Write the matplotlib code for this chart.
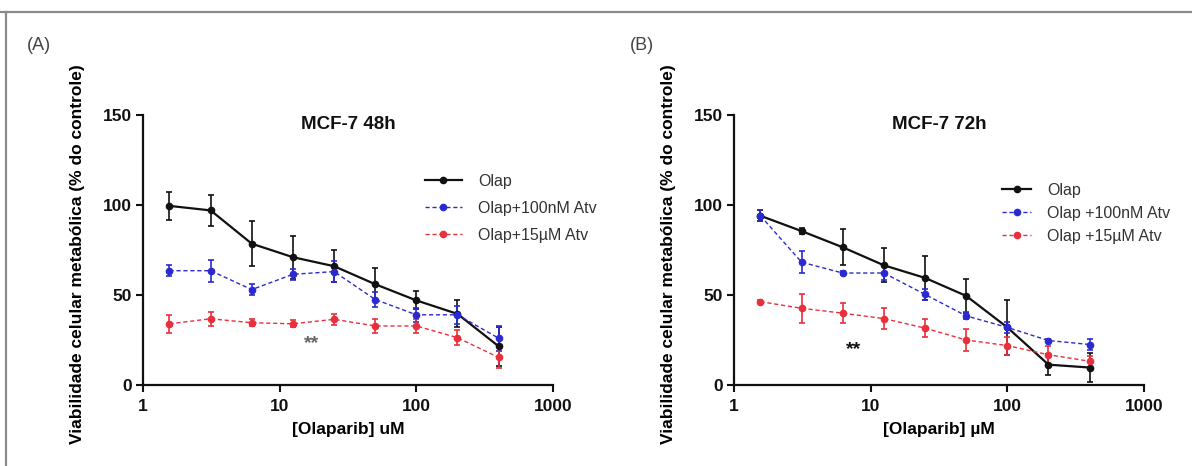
import matplotlib
matplotlib.use("Agg")
import matplotlib.pyplot as plt
from matplotlib.lines import Line2D
import numpy as np

plt.rcParams['font.family'] = ['Liberation Sans', 'DejaVu Sans']

# ---- data ----
conc = [1.5625, 3.125, 6.25, 12.5, 25, 50, 100, 200, 400]

a_olap = [99.5, 97, 78.5, 71, 66, 56, 47, 39.5, 21.5]
a_olap_err = [8, 8.5, 12.5, 12, 9, 9, 5, 7.5, 11]
a_atv100 = [63.5, 63.5, 53, 61.5, 63, 47.5, 39, 39, 26]
a_atv100_err = [3, 6, 3, 3, 6, 4, 4, 5, 7]
a_atv15 = [34, 36.8, 34.6, 34, 36.5, 32.8, 32.8, 26.3, 15.3]
a_atv15_err = [5, 4, 2, 2, 3, 4, 4, 4, 6]

b_olap = [94, 85.5, 76.5, 66.5, 59.5, 49.5, 32, 11.3, 9.7]
b_olap_err = [3, 1.5, 10, 9.5, 12, 9.5, 15.5, 6, 8]
b_atv100 = [94, 68.2, 62.2, 62.2, 50.3, 38.4, 32, 24.7, 22.5]
b_atv100_err = [3, 6, 1, 4, 3, 2, 3, 1, 3]
b_atv15 = [46.3, 42.6, 39.9, 36.9, 31.6, 25, 21.9, 16.8, 13.2]
b_atv15_err = [1, 8, 5.5, 6, 5, 6, 5, 5, 3]

a_labels = ["Olap", "Olap+100nM Atv", "Olap+15\u00b5M Atv"]
b_labels = ["Olap", "Olap +100nM Atv", "Olap +15\u00b5M Atv"]

x_ticks = [1, 10, 100, 1000]
x_tick_labels = ["1", "10", "100", "1000"]
y_ticks = [0, 50, 100, 150]

W, H = 1192, 466
fig = plt.figure(figsize=(W / 100, H / 100), dpi=100)

# figure frame lines (top and left)
fig.add_artist(Line2D([0, 1], [1 - 12 / H, 1 - 12 / H], color="#8a8a8a", lw=1.6))
fig.add_artist(Line2D([6 / W, 6 / W], [0, 1 - 12 / H], color="#8a8a8a", lw=1.6))

black = "#111111"
blue = "#2a2ad0"
red = "#e8303c"


def panel(left, series, labels, title, xlabel, leg_anchor, leg_hl, leg_spacing,
          stars_xy, stars_color, tag, tag_x):
    ax = fig.add_axes([left / W, 1 - 385 / H, 410 / W, 270 / H])
    styles = [
        dict(color=black, ls="-", lw=1.6),
        dict(color=blue, ls=(0, (3, 2)), lw=1.0),
        dict(color=red, ls=(0, (3, 2)), lw=1.0),
    ]
    handles = []
    for (y, e), st, lab in zip(series, styles, labels):
        ax.errorbar(conc, y, yerr=e, marker="o", ms=4.5, capsize=2.2,
                    elinewidth=1.2, capthick=1.2, color=st["color"],
                    ls=st["ls"], lw=st["lw"], mfc=st["color"], mec=st["color"])
        handles.append(Line2D([], [], color=st["color"], ls=st["ls"], lw=st["lw"],
                              marker="o", ms=4.5, mfc=st["color"],
                              mec=st["color"], label=lab))
    ax.set_xscale("log")
    ax.set_xlim(1, 1000)
    ax.set_ylim(0, 150)
    ax.set_xticks(x_ticks)
    ax.set_xticklabels(x_tick_labels)
    ax.xaxis.set_minor_locator(matplotlib.ticker.NullLocator())
    ax.set_yticks(y_ticks)
    for s in ["top", "right"]:
        ax.spines[s].set_visible(False)
    for s in ["left", "bottom"]:
        ax.spines[s].set_linewidth(1.6)
        ax.spines[s].set_color(black)
    ax.tick_params(axis="both", direction="out", length=5, width=1.5,
                   labelsize=12.5, pad=3, colors=black)
    ax.tick_params(axis="x", pad=5)
    for t in ax.get_xticklabels() + ax.get_yticklabels():
        t.set_fontweight("bold")
    ax.set_xlabel(xlabel, fontsize=12.5, fontweight="bold", labelpad=6)
    ax.set_ylabel("Viabilidade celular metabólica (% do controle)",
                  fontsize=12.5, fontweight="bold")
    ax.yaxis.set_label_coords(-0.142, 0.485)
    ax.text(0.5, 0.963, title, transform=ax.transAxes, ha="center", va="center",
            fontsize=13.5, fontweight="bold", color=black)
    ax.text(stars_xy[0], stars_xy[1], "**", ha="center", va="center",
            fontsize=14, fontweight="bold", color=stars_color)
    ax.legend(handles=handles, loc="upper left", bbox_to_anchor=leg_anchor,
              frameon=False, fontsize=11.5, borderpad=0, borderaxespad=0,
              handlelength=leg_hl, handletextpad=1.0, labelspacing=leg_spacing,
              labelcolor="#333333")
    fig.text(tag_x / W, 1 - 45 / H, tag, fontsize=13, color="#444444",
             ha="left", va="center")
    return ax


panel(143,
      [(a_olap, a_olap_err), (a_atv100, a_atv100_err), (a_atv15, a_atv15_err)],
      a_labels, "MCF-7 48h", "[Olaparib] uM", (0.688, 0.782), 2.3, 0.75,
      (17, 23), "#666666", "(A)", 27)
panel(734,
      [(b_olap, b_olap_err), (b_atv100, b_atv100_err), (b_atv15, b_atv15_err)],
      b_labels, "MCF-7 72h", "[Olaparib] \u00b5M", (0.654, 0.748), 1.8, 0.5,
      (7.5, 19.5), black, "(B)", 630)

fig.savefig("out.png", dpi=100)
